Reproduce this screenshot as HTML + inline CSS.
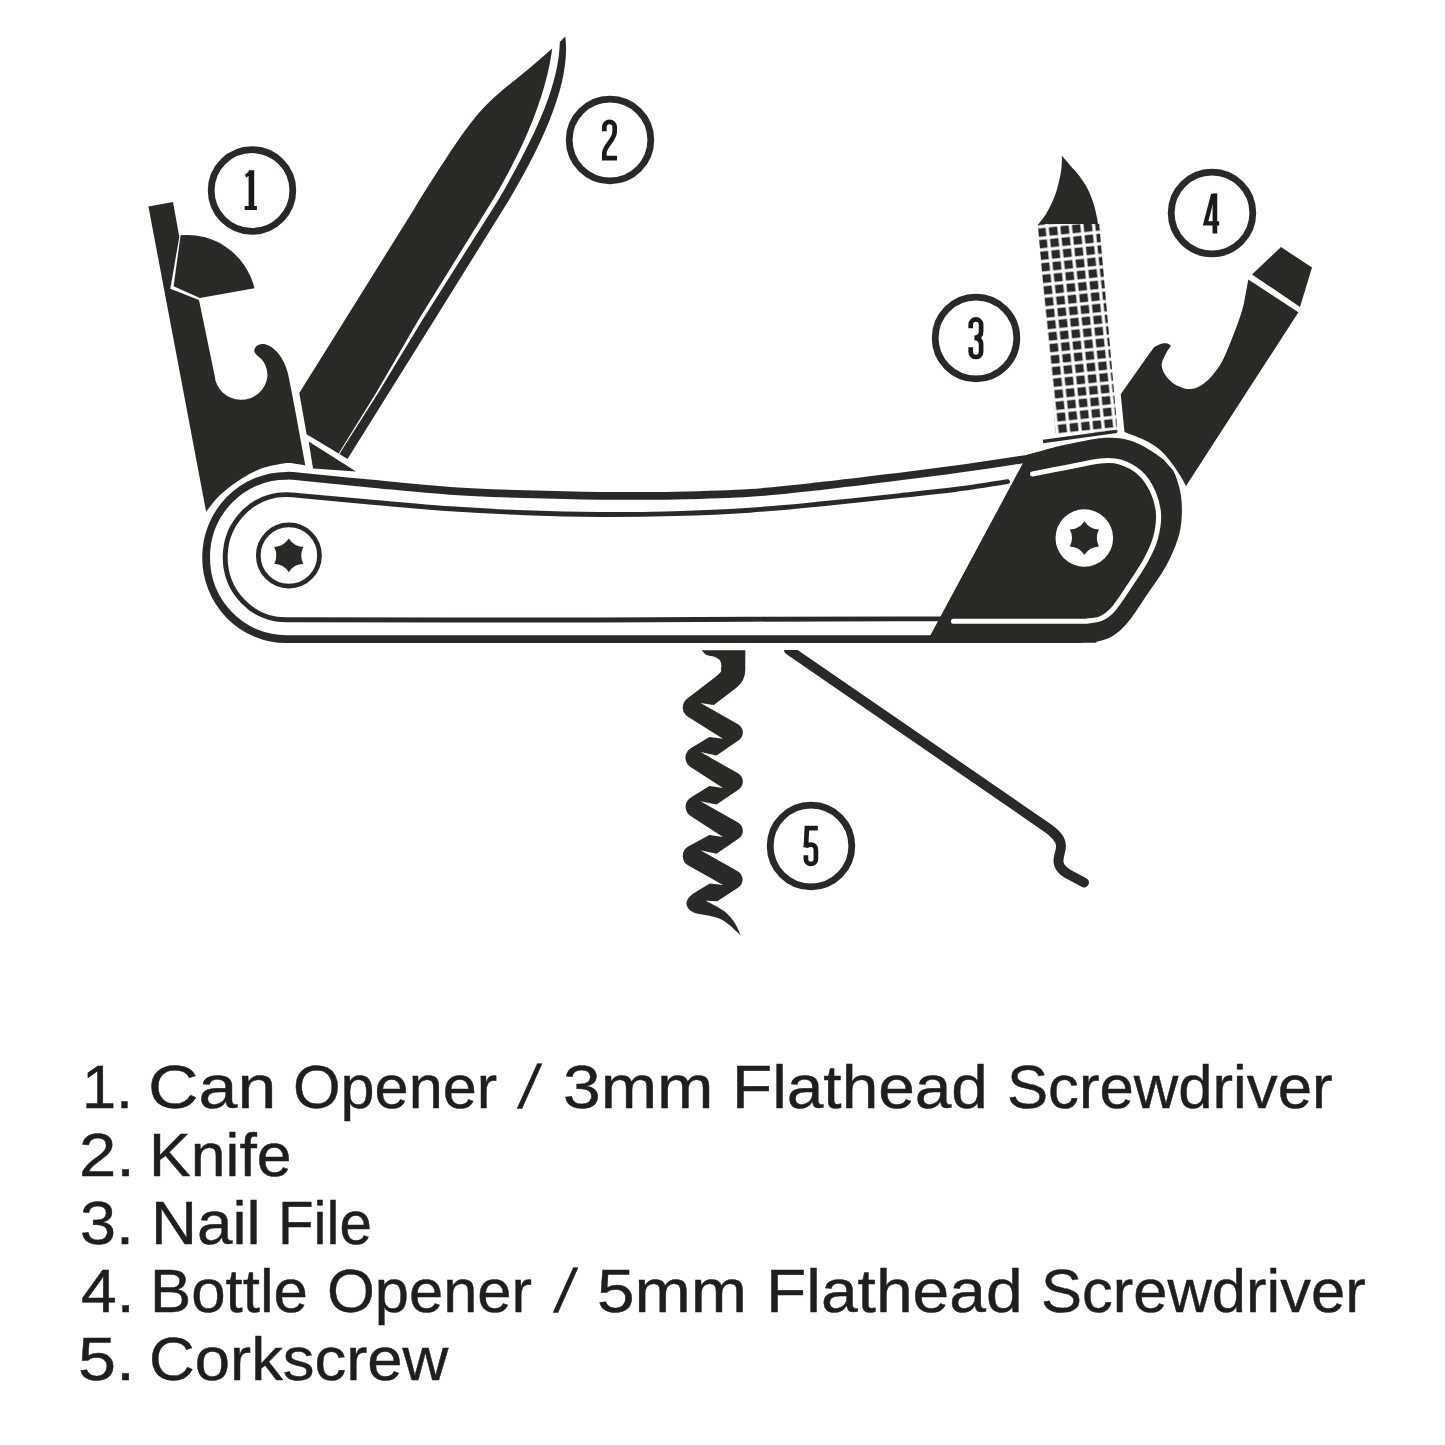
<!DOCTYPE html>
<html>
<head>
<meta charset="utf-8">
<title>Pocket Knife Tools</title>
<style>
  html, body { margin: 0; padding: 0; background: #ffffff; }
  body { width: 1445px; height: 1445px; overflow: hidden; position: relative; font-family: "Liberation Sans", sans-serif; }
  svg { position: absolute; left: 0; top: 0; display: block; }
  .l { position: absolute; margin: 0; padding: 0; color: #1f1e1b; font-family: "Liberation Sans", sans-serif;
        font-size: 61px; line-height: 70px; height: 70px; white-space: nowrap; transform-origin: 0 0; -webkit-text-stroke: 0.45px #1f1e1b; }
</style>
</head>
<body>
<svg width="1445" height="1445" viewBox="0 0 1445 1445">
  <defs>
    <pattern id="grid" width="11.6" height="11.6" patternUnits="userSpaceOnUse" patternTransform="translate(1047 226) rotate(-6)">
      <rect x="0" y="0" width="11.6" height="11.6" fill="#ffffff"/>
      <rect x="1.6" y="1.6" width="8.4" height="8.4" fill="#2a2925"/>
    </pattern>
  </defs>
  <g fill="#2a2925" stroke="none">
    <path d="M148.4,206.4 L173,202 L179.3,237 L170.3,288.7 L199,300 L214.5,375 A26.6,26.6 0 0 0 267.5,376 C267.4,375.2 267.5,373.4 267.1,371.5 C266.7,369.6 265.9,366.4 264.9,364.3 C263.9,362.2 262.4,360.5 261,358.8 C259.6,357.1 257.3,355.7 256.2,354.4 C255.1,353.1 254.4,352 254.3,350.8 C254.2,349.6 254.8,348.2 255.5,347.2 C256.2,346.2 257.4,345.2 258.8,344.7 C260.2,344.2 261.9,343.8 263.8,344.1 C265.7,344.4 268.2,345.3 270.4,346.6 C272.6,347.9 275.1,349.9 277.1,352.1 C279.1,354.3 281,357.1 282.6,359.9 C284.2,362.7 285.4,365.5 286.5,368.8 C287.6,372.1 287.9,372.9 289.3,379.8 L295.1,410 L305.3,465.4 C303.4,465.1 297.5,463.7 293.8,463.4 C290.1,463.1 288.6,462.6 283.4,463.4 C278.2,464.2 269.6,465.5 262.7,468 C255.8,470.5 248.8,474.1 241.9,478.4 C235,482.7 227.1,488.5 221.1,494 C215.1,499.5 208.6,508.7 206.1,511.6 Z"/>
    <path d="M180.6,235.2 A69.6,69.6 0 0 1 254.5,288.2 L199.8,297.9 L173.6,286.3 Z"/>
    <path d="M552.2,48.4 C478.5,113.7 490.5,86.6 413.5,210 L299.3,393 L306.6,434.2 L338.6,453.6 L376.2,392.7 L418.4,320 L492.8,200 C514,165 545,105 552.2,48.4 Z"/>
    <path d="M565.3,36.6 C571,80 545,140 509,200 L434.3,320 L347.5,459 L339.4,454.1 L342,449.8 L378.3,392.7 L422.4,320 L498.3,200 C535,137 559,85 559.8,42 Z"/>
    <path d="M308.7,441.5 L356,471.5 L313,468.5 Z"/>
    <path d="M1061.9,155.8 C1061.8,157.7 1062,163.1 1061.5,167.4 C1061,171.7 1060.2,176.4 1059,181.5 C1057.8,186.6 1056.1,192.8 1054,198.1 C1051.9,203.4 1049.2,208.7 1046.6,213.1 C1044,217.5 1039.9,222.4 1038.6,224.3 L1037.9,227 L1099.3,229 L1098.5,227.2 C1098.3,225.8 1098,222.6 1097.2,218.9 C1096.4,215.2 1095.4,209.7 1093.9,204.8 C1092.4,200 1090.4,194.5 1088.1,189.8 C1085.8,185.1 1082.8,180.7 1079.8,176.5 C1076.8,172.3 1072.8,168.3 1069.8,164.9 C1066.8,161.5 1063.2,157.3 1061.9,155.8 Z"/>
    <path d="M1037.8,224 L1099.2,224 L1117.6,432 L1055.5,434 Z" fill="url(#grid)"/>
    <path d="M1248.3,279.4 L1298.4,312.3 L1186,486 C1185.2,484.5 1183.2,480.5 1181,477 C1178.8,473.5 1176.3,469.2 1173.1,465 C1169.9,460.8 1166.1,455.4 1161.8,451.5 C1157.5,447.6 1153.7,444.8 1147.5,441.5 C1141.3,438.2 1128.3,433.6 1124.5,432 L1120.7,394.3 L1150.5,352 C1156.4,343.9 1154.3,347.4 1156.3,346 C1158.3,344.6 1160.4,343.8 1162.3,343.4 C1164.2,343 1166,343.1 1167.5,343.5 C1169,343.9 1170.4,345.4 1171,345.8 C1170.2,347 1167.7,350.1 1166.2,353.1 C1164.7,356.1 1162.1,360.4 1161.8,363.8 C1161.5,367.2 1162.6,370.3 1164.3,373.4 C1166,376.5 1169.1,379.8 1172,382.2 C1174.9,384.6 1178.6,386.4 1181.7,387.5 C1184.8,388.6 1187.3,389.2 1190.4,389 C1193.5,388.8 1196.7,387.9 1200.1,386 C1203.5,384.1 1207.2,381.2 1210.8,377.3 C1214.3,373.4 1218.3,368.3 1221.4,362.8 C1224.5,357.3 1227,350.7 1229.6,344.4 C1232.2,338.1 1234.8,331.7 1237.2,325 C1239.6,318.3 1242,311.6 1243.8,304 L1248.3,279.4 Z"/>
    <path d="M1252,274.4 L1281,247 L1312,267.6 L1300,307 Z"/>
    <path d="M701.7,650.2 L745.3,650.2 L745.3,669.5 Q745.3,681 736.1,688 L713.8,704.9 L700.5,703 L738,724.2 A9.5,9.5 0 0 1 738.7,740.3 L716.5,755.5 L700.5,752.1 L738,773.3 A9.5,9.5 0 0 1 738.7,789.4 L716.5,804.6 L700.5,801.2 L738,822.4 A9.5,9.5 0 0 1 738.7,838.5 L716.5,853.7 L700.5,850.3 L737.7,871.3 A9.5,9.5 0 0 1 738.3,887.5 L717.3,901.3 L705.7,900.7 C707.8,901.8 714.7,905.2 718.1,907.3 C721.5,909.4 723.6,910.5 726.4,913.1 C729.2,915.7 732.4,919.4 734.8,923.1 C737.2,926.8 739.6,933.1 740.6,935.1 C739.9,934.5 738.5,933.3 736.4,931.4 C734.3,929.5 731.1,926.1 728.1,923.9 C725.1,921.7 721.7,919.5 718.1,918.1 C714.5,916.7 710.2,916 706.5,915.2 C702.8,914.4 698.6,914.2 695.7,913.3 C692.8,912.4 690.8,911.2 689.3,909.6 C687.8,908 686.3,905.5 686.4,903.4 C686.5,901.3 687.8,898.8 689.6,896.8 C691.4,894.8 695.8,892.2 697,891.3 L709.9,883.4 L723.1,884.9 L688.4,865.5 A11,11 0 0 1 688.6,846.2 L709.4,835.1 L723,837 L690.6,816.1 A11,11 0 0 1 690.8,797.5 L709.4,786 L723,787.9 L690.5,767 A11,11 0 0 1 690.7,748.3 L709.4,736.9 L723,738.8 L687.9,716.8 A11,11 0 0 1 687,698.8 L716,676.5 C723.8,669.9 720.3,671.1 721,668.5 C721.7,665.9 721.4,663 720.3,661 C719.2,659 716.6,657.8 714.3,656.8 C712,655.8 708.6,656.1 706.5,655 C704.4,653.9 702.5,651 701.7,650.2 Z"/>
    <path d="M789,650 L1046,826.8 C1054,832.3 1061,838 1061,846 C1061,852 1058,856 1058.5,862 C1059,868 1063,871 1068,874 L1084,882.5" fill="none" stroke="#2a2925" stroke-width="9.9" stroke-linecap="round" stroke-linejoin="round"/>
    <rect x="770" y="638" width="40" height="12" fill="#ffffff"/>
    <path d="M1022.5,464 L1027.5,454.6 C1030.2,453.9 1038.3,451.7 1044,450.2 C1049.7,448.7 1053,447.5 1061.5,445.6 C1070,443.7 1086.5,440.3 1094.8,439 C1103.1,437.7 1105.9,437.7 1111.4,437.8 C1116.9,437.9 1122.7,438.5 1128,439.9 C1133.3,441.3 1137.4,443 1143,446 C1148.6,449 1157.3,454.8 1161.5,458 C1165.7,461.2 1166,462.3 1168.3,465 C1170.5,467.7 1172.9,469.1 1175,474.3 C1177.1,479.5 1179.9,488.4 1181,496 C1182.1,503.6 1182.1,512.7 1181.5,520 C1180.9,527.3 1180.1,532.3 1177.5,540 C1174.9,547.7 1171,557 1166,566 C1161,575 1153.8,584.8 1147.5,594 C1141.2,603.2 1134.2,614.6 1128.5,621.5 C1122.8,628.4 1118.7,632.1 1113.5,635.5 C1108.3,638.9 1103.1,640.4 1097.5,641.6 C1091.9,642.8 1107.9,642.7 1080,642.9 L930,642.9 L930,636 Z"/>
  </g>
  <g fill="none" stroke="#2a2925" stroke-linecap="round" stroke-linejoin="round">
    <path stroke-width="7.8" d="M1029,458.5 C1018.3,460.1 986.5,465 965,468 C943.5,471 923.3,473.6 900,476.5 C876.7,479.4 850,482.8 825,485.5 C800,488.2 775,491.2 750,492.9 C725,494.6 700,495.1 675,495.6 C650,496.1 625,496 600,495.8 C575,495.6 550,495 525,494.2 C500,493.4 475,492.5 450,490.8 C425,489.1 400,486.4 375,484 C350,481.6 314.8,478 300,476.6 C285.2,475.2 288.3,475.9 286,475.8 A79.9,81.7 0 0 0 206.1,557.5 A79.9,81.7 0 0 0 286,639.1 L950,639.1"/>
    <path stroke-width="4.9" d="M1007.5,481.7 C998.8,483 972.9,487.2 955,489.5 C937.1,491.8 921.7,493.3 900,495.6 C878.3,497.9 850,501.1 825,503.5 C800,505.9 775,508.5 750,510.2 C725,511.9 700,512.9 675,513.6 C650,514.3 625,514.6 600,514.5 C575,514.4 550,513.8 525,512.8 C500,511.8 475,510.5 450,508.8 C425,507.1 400,504.7 375,502.5 C350,500.3 314.8,496.9 300,495.6 C285.2,494.3 288.3,494.8 286,494.6 A60.8,62.6 0 0 0 225.2,557.2 A60.8,62.6 0 0 0 286,619.8 L450,620 L600,620 L750,619.2 L900,618.9 L944,618.9"/>
    <path stroke="#ffffff" stroke-width="5.1" d="M1032.5,473.9 C1038.1,472.8 1054.8,469.6 1066,467.5 C1077.2,465.4 1091,461.9 1100,461 C1109,460.1 1113.3,460 1120,462 C1126.7,464 1134.5,468 1140,473 C1145.5,478 1149.9,485.2 1153,492 C1156.1,498.8 1158.1,506.3 1158.5,514 C1158.9,521.7 1157.6,530.3 1155.5,538 C1153.4,545.7 1150.3,552 1146,560 C1141.7,568 1135,577.8 1129.5,586 C1124,594.2 1117.8,604.1 1113,609.5 C1108.2,614.9 1105.5,616.5 1101,618.5 C1096.5,620.5 1088.5,620.8 1086,621.2 L953.5,621.2"/>
    <path stroke-width="3.4" stroke-linecap="butt" d="M1043,441.5 L1116.8,431.4"/>
  </g>
  <circle cx="288.9" cy="555.5" r="30.6" fill="#ffffff" stroke="#2a2925" stroke-width="4.7"/>
  <path fill="#2a2925" d="M288.80,538.60 Q293.93,546.52 303.35,547.00 Q299.05,555.40 303.35,563.80 Q293.93,564.28 288.80,572.20 Q283.67,564.28 274.25,563.80 Q278.55,555.40 274.25,547.00 Q283.67,546.52 288.80,538.60Z"/>
  <circle cx="1084.3" cy="538" r="28.8" fill="#ffffff"/>
  <path fill="#2a2925" d="M1084.40,521.20 Q1089.53,529.12 1098.95,529.60 Q1094.65,538.00 1098.95,546.40 Q1089.53,546.88 1084.40,554.80 Q1079.27,546.88 1069.85,546.40 Q1074.15,538.00 1069.85,529.60 Q1079.27,529.12 1084.40,521.20Z"/>
  <g fill="#ffffff" stroke="#2a2925" stroke-width="6.8">
    <circle cx="252" cy="190.5" r="40.8"/>
    <circle cx="610" cy="140" r="40.8"/>
    <circle cx="976" cy="338" r="40.8"/>
    <circle cx="1212" cy="213" r="40.8"/>
    <circle cx="811" cy="846" r="40.8"/>
  </g>
  <g fill="none" stroke="#1b1a16" stroke-width="4.7" stroke-linejoin="miter" stroke-linecap="butt" stroke-miterlimit="6">
    <path d="M604.3,131.2 L604.3,127 A5.2,5.2 0 0 1 614.7,127 L614.7,131.5 C614.7,140.5 604.3,145.5 604.3,153.5 L604.3,158.1 L617,158.1"/>
    <path d="M970.7,328.2 L970.7,324.5 A5.2,5.2 0 0 1 981.1,324.5 L981.1,331.5 C981.1,335.5 979,337.6 974.5,337.8 C979,338 981.1,340.5 981.1,344.5 L981.1,351.8 A5.2,5.2 0 0 1 970.7,351.8 L970.7,347.3"/>
    <path d="M1214.9,193.4 L1214.9,233.5"/>
    <path stroke-width="4.3" d="M1213.2,194.2 L1205.6,223.3 L1219.2,223.3"/>
    <path d="M817.8,828.2 L806.9,828.2 L805.9,847.3"/>
    <path d="M805.7,847.3 C806.2,845.5 808.5,844.7 811,844.7 C814,844.7 815.9,846.7 815.9,850.2 L815.9,859 A5,5 0 0 1 805.9,859 L805.9,855.2"/>
  </g>
  <g fill="#1b1a16" stroke="none">
    <path d="M248.6,170.3 L254.2,170.3 L254.2,206 L256.9,206 L256.9,210 L244.7,210 L244.7,206 L248.6,206 L248.6,176 L246,177.7 L245.1,174.4 L248.6,171.8 Z"/>
  </g>
</svg>
<div class="l" style="left:81.6px;top:1052.0px;transform:scaleX(1.0050)">1.</div>
<div class="l" style="left:147.5px;top:1052.0px;transform:scaleX(1.1467)">Can</div>
<div class="l" style="left:292.7px;top:1052.0px;transform:scaleX(1.0030)">Opener</div>
<div class="l" style="left:527.0px;top:1052.0px;transform:skewX(-10deg)">/</div>
<div class="l" style="left:562.8px;top:1052.0px;transform:scaleX(1.1100)">3mm</div>
<div class="l" style="left:732.2px;top:1052.0px;transform:scaleX(1.0781)">Flathead</div>
<div class="l" style="left:1007.0px;top:1052.0px;transform:scaleX(1.0107)">Screwdriver</div>
<div class="l" style="left:79.2px;top:1119.9px;transform:scaleX(1.1000)">2.</div>
<div class="l" style="left:149.3px;top:1119.9px;transform:scaleX(1.0252)">Knife</div>
<div class="l" style="left:80.4px;top:1187.8px;transform:scaleX(1.0628)">3.</div>
<div class="l" style="left:150.6px;top:1187.8px;transform:scaleX(1.0437)">Nail</div>
<div class="l" style="left:278.3px;top:1187.8px;transform:scaleX(0.9544)">File</div>
<div class="l" style="left:80.6px;top:1255.7px;transform:scaleX(1.0523)">4.</div>
<div class="l" style="left:150.3px;top:1255.7px;transform:scaleX(1.0128)">Bottle</div>
<div class="l" style="left:326.6px;top:1255.7px;transform:scaleX(1.0075)">Opener</div>
<div class="l" style="left:562.9px;top:1255.7px;transform:skewX(-10deg)">/</div>
<div class="l" style="left:597.1px;top:1255.7px;transform:scaleX(1.1078)">5mm</div>
<div class="l" style="left:765.6px;top:1255.7px;transform:scaleX(1.0807)">Flathead</div>
<div class="l" style="left:1041.0px;top:1255.7px;transform:scaleX(1.0082)">Screwdriver</div>
<div class="l" style="left:78.2px;top:1323.6px;transform:scaleX(1.1214)">5.</div>
<div class="l" style="left:148.6px;top:1323.6px;transform:scaleX(1.0393)">Corkscrew</div>
</body>
</html>
